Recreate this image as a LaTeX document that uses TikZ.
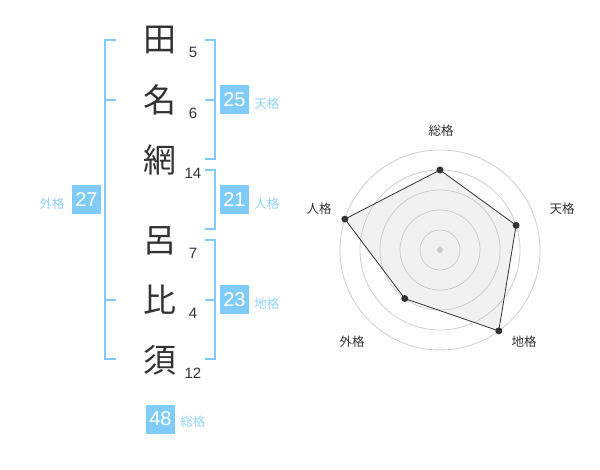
\documentclass[tikz,border=0pt]{standalone}
\usepackage{fontspec}
\setmainfont{Liberation Sans}
\newfontfamily\jpfont{Noto Sans CJK JP}
\usetikzlibrary{positioning}
\definecolor{kakublue}{HTML}{7FCCFA}
\definecolor{lblblue}{HTML}{8FD2F7}
\definecolor{inkgray}{HTML}{333333}
\definecolor{ringgray}{HTML}{CCCCCC}
\definecolor{areagray}{HTML}{F1F1F1}

\begin{document}
\begin{tikzpicture}[x=1pt, y=-1pt,
    kanji/.style = {inner sep=0, text=inkgray,
    font=\jpfont\fontsize{33}{33}\selectfont},
    strokes/.style = {inner sep=0, text=inkgray, font=\fontsize{15}{15}\selectfont},
    kakubox/.style = {fill=kakublue, text=white, minimum size=29pt,
    inner sep=0, font=\fontsize{20}{20}\selectfont},
    kakulabel/.style = {inner sep=0, text=lblblue,
    font=\jpfont\fontsize{12.5}{12.5}\selectfont},
    axislabel/.style = {inner sep=0, text=inkgray,
    font=\jpfont\fontsize{12.5}{12.5}\selectfont},
    bracket/.style={draw=kakublue, line width=2pt},
    ring/.style={draw=ringgray, line width=0.8pt},
    vertex/.style={circle, fill=inkgray, inner sep=0, minimum size=7pt}]

    \useasboundingbox (0,0) rectangle (600,470);

    % name, one character per row
    \node[kanji] (ta)  at (160,40)  {田};
    \node[kanji] (na)  at (160,100) {名};
    \node[kanji] (ami) at (160,160) {網};
    \node[kanji] (ro)  at (160,241) {呂};
    \node[kanji] (hi)  at (160,300) {比};
    \node[kanji] (su)  at (160,360) {須};

    \node[strokes] at (193,52)  {5};
    \node[strokes] at (193,113) {6};
    \node[strokes] at (193,173) {14};
    \node[strokes] at (193,253) {7};
    \node[strokes] at (193,313) {4};
    \node[strokes] at (193,373) {12};

    % brackets
    \draw[bracket] (116,40) -- (105,40) -- (105,359) -- (116,359);
    \draw[bracket] (105,100) -- (116,100);
    \draw[bracket] (105,300) -- (116,300);

    \draw[bracket] (205,40) -- (215,40) -- (215,159) -- (205,159);
    \draw[bracket] (215,100) -- (205,100);
    \draw[bracket] (205,170) -- (215,170) -- (215,229) -- (205,229);
    \draw[bracket] (205,240) -- (215,240) -- (215,359) -- (205,359);
    \draw[bracket] (215,300) -- (205,300);

    % totals
    \node[kakubox] (ten) at (234.5,100) {25};
    \node[kakubox] (jin) at (234.5,200) {21};
    \node[kakubox] (chi) at (234.5,300) {23};
    \node[kakubox] (gai) at (86.5,200)  {27};
    \node[kakubox] (sou) at (160.5,419) {48};

    \node[kakulabel, right=5pt of ten, yshift=-4pt] (ten-l) {天格};
    \node[kakulabel, right=5pt of jin, yshift=-4pt] (jin-l) {人格};
    \node[kakulabel, right=5pt of chi, yshift=-4pt] (chi-l) {地格};
    \node[kakulabel, left=7pt of gai, yshift=-4pt]  (gai-l) {外格};
    \node[kakulabel, right=5pt of sou, yshift=-3pt] (sou-l) {総格};

    % radar chart
    \begin{scope}[shift={(440,250)}]
      \coordinate (ctr) at (0,0);
      \coordinate (r-sou) at (90:80pt);
      \coordinate (r-ten) at (18:80pt);
      \coordinate (r-chi) at (-54:100pt);
      \coordinate (r-gai) at (-126:60pt);
      \coordinate (r-jin) at (162:100pt);

      \fill[areagray] (r-sou) -- (r-ten) -- (r-chi) -- (r-gai) -- (r-jin) -- cycle;
      \foreach \r in {20,40,60,80,100}
        \draw[ring] (ctr) circle[radius=\r pt];
      \draw[inkgray, line width=0.8pt]
        (r-sou) -- (r-ten) -- (r-chi) -- (r-gai) -- (r-jin) -- cycle;
      \foreach \p in {sou,ten,chi,gai,jin}
        \node[vertex] at (r-\p) {};
      \node[circle, fill=ringgray, inner sep=0, minimum size=6pt] (dot) at (ctr) {};
    \end{scope}

    \node[axislabel] (a-sou) at (441,130.5) {総格};
    \node[axislabel] (a-ten) at (562,208.5) {天格};
    \node[axislabel] (a-jin) at (319,209)   {人格};
    \node[axislabel] (a-gai) at (352,342)   {外格};
    \node[axislabel] (a-chi) at (524,342)   {地格};

\end{tikzpicture}
\end{document}
